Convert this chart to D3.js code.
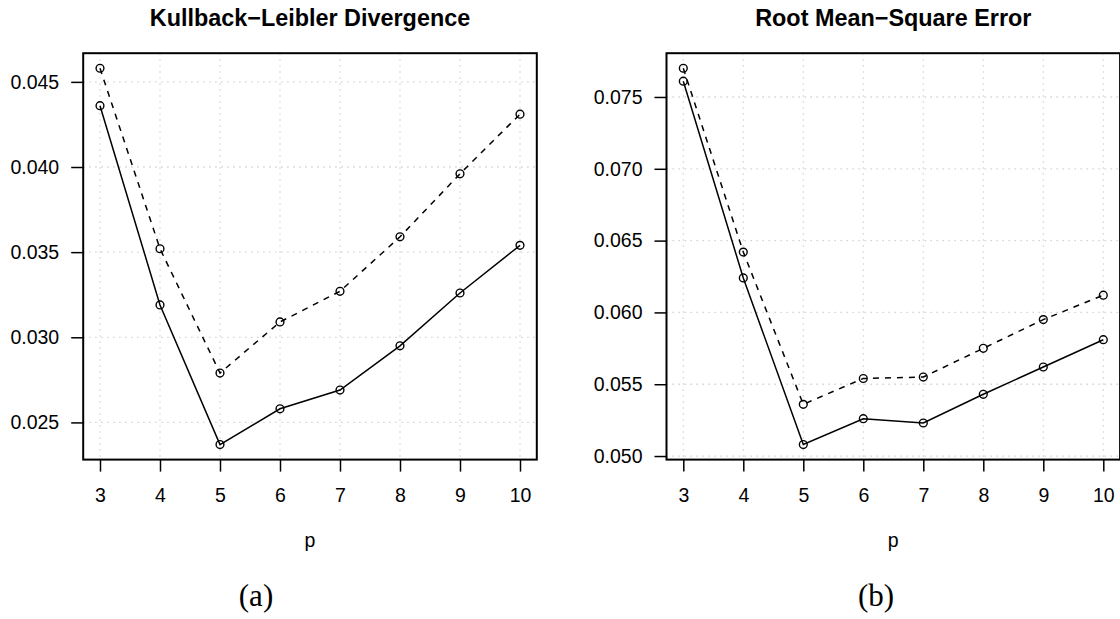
<!DOCTYPE html>
<html>
<head>
<meta charset="utf-8">
<script src="https://cdn.jsdelivr.net/npm/d3@7"></script>
<style>
  html, body { margin: 0; padding: 0; background: #fff; }
  svg { display: block; }
</style>
</head>
<body>
<svg id="chart" width="1120" height="619"></svg>
<script>
// ---- data ----
const pValues = [3, 4, 5, 6, 7, 8, 9, 10];
const klSolid   = [0.0436, 0.0319, 0.0237, 0.0258, 0.0269, 0.0295, 0.0326, 0.0354];
const klDashed  = [0.0458, 0.0352, 0.0279, 0.0309, 0.0327, 0.0359, 0.0396, 0.0431];
const rmseSolid  = [0.0761, 0.0624, 0.0508, 0.0526, 0.0523, 0.0543, 0.0562, 0.0581];
const rmseDashed = [0.0770, 0.0642, 0.0536, 0.0554, 0.0555, 0.0575, 0.0595, 0.0612];
const klTicks   = [0.025, 0.030, 0.035, 0.040, 0.045];
const rmseTicks = [0.050, 0.055, 0.060, 0.065, 0.070, 0.075];
const titles = ["Kullback\u2212Leibler Divergence", "Root Mean\u2212Square Error"];
const captions = ["(a)", "(b)"];
const xLabel = "p";

const svg = d3.select("#chart");
const sans = "'Liberation Sans', Arial, Helvetica, sans-serif";
const serif = "'Liberation Serif', 'Times New Roman', serif";

function rExtend(lo, hi) { const d = (hi - lo) * 0.04; return [lo - d, hi + d]; }

const panels = [
  { left: 83.2, right: 536.8, solid: klSolid, dashed: klDashed, ticks: klTicks, title: titles[0], cap: captions[0], capX: 256 },
  { left: 666.5, right: 1120.1, solid: rmseSolid, dashed: rmseDashed, ticks: rmseTicks, title: titles[1], cap: captions[1], capX: 876 }
];
const plotTop = 53.2, plotBottom = 459.6;

panels.forEach(P => {
  const all = P.solid.concat(P.dashed);
  const x = d3.scaleLinear().domain(rExtend(d3.min(pValues), d3.max(pValues))).range([P.left, P.right]);
  const y = d3.scaleLinear().domain(rExtend(d3.min(all), d3.max(all))).range([plotBottom, plotTop]);
  const g = svg.append("g");

  // grid
  g.selectAll(".vg").data(pValues).enter().append("line")
    .attr("x1", d => x(d)).attr("x2", d => x(d)).attr("y1", plotTop).attr("y2", plotBottom)
    .attr("stroke", "#d3d3d3").attr("stroke-width", 1.3).attr("stroke-dasharray", "1.5 4.5");
  g.selectAll(".hg").data(P.ticks).enter().append("line")
    .attr("x1", P.left).attr("x2", P.right).attr("y1", d => y(d)).attr("y2", d => y(d))
    .attr("stroke", "#d3d3d3").attr("stroke-width", 1.3).attr("stroke-dasharray", "1.5 4.5");

  // axes
  const xAxis = d3.axisBottom(x).tickValues(pValues).tickSize(12).tickPadding(10).tickFormat(d3.format("d"));
  const gx = g.append("g").attr("transform", `translate(0,${plotBottom})`).call(xAxis);
  gx.select(".domain").remove();
  gx.selectAll(".tick line").attr("stroke", "#000").attr("stroke-width", 1.5);
  gx.selectAll(".tick text").attr("font-family", sans).attr("font-size", 19.5).attr("fill", "#000").attr("dy", "1.05em");

  const yAxis = d3.axisLeft(y).tickValues(P.ticks).tickSize(12).tickPadding(12).tickFormat(d3.format(".3f"));
  const gy = g.append("g").attr("transform", `translate(${P.left},0)`).call(yAxis);
  gy.select(".domain").remove();
  gy.selectAll(".tick line").attr("stroke", "#000").attr("stroke-width", 1.5);
  gy.selectAll(".tick text").attr("font-family", sans).attr("font-size", 19.5).attr("fill", "#000");

  // box
  g.append("rect").attr("x", P.left).attr("y", plotTop).attr("width", P.right - P.left).attr("height", plotBottom - plotTop)
    .attr("fill", "none").attr("stroke", "#000").attr("stroke-width", 2);

  // lines
  const line = d3.line().x((d, i) => x(pValues[i])).y(d => y(d));
  g.append("path").datum(P.dashed).attr("d", line).attr("fill", "none")
    .attr("stroke", "#000").attr("stroke-width", 1.5).attr("stroke-dasharray", "6 6");
  g.append("path").datum(P.solid).attr("d", line).attr("fill", "none")
    .attr("stroke", "#000").attr("stroke-width", 1.5);

  [P.dashed, P.solid].forEach(series => {
    g.selectAll(null).data(series).enter().append("circle")
      .attr("cx", (d, i) => x(pValues[i])).attr("cy", d => y(d)).attr("r", 3.9)
      .attr("fill", "none").attr("stroke", "#000").attr("stroke-width", 1.4);
  });

  // titles
  const cx = (P.left + P.right) / 2;
  g.append("text").attr("x", cx).attr("y", 26).attr("text-anchor", "middle")
    .attr("font-family", sans).attr("font-weight", "bold").attr("font-size", 23.4).text(P.title);
  g.append("text").attr("x", cx).attr("y", 547).attr("text-anchor", "middle")
    .attr("font-family", sans).attr("font-size", 19.5).text(xLabel);
  g.append("text").attr("x", P.capX).attr("y", 606).attr("text-anchor", "middle")
    .attr("font-family", serif).attr("font-size", 31).text(P.cap);
});
</script>
</body>
</html>
